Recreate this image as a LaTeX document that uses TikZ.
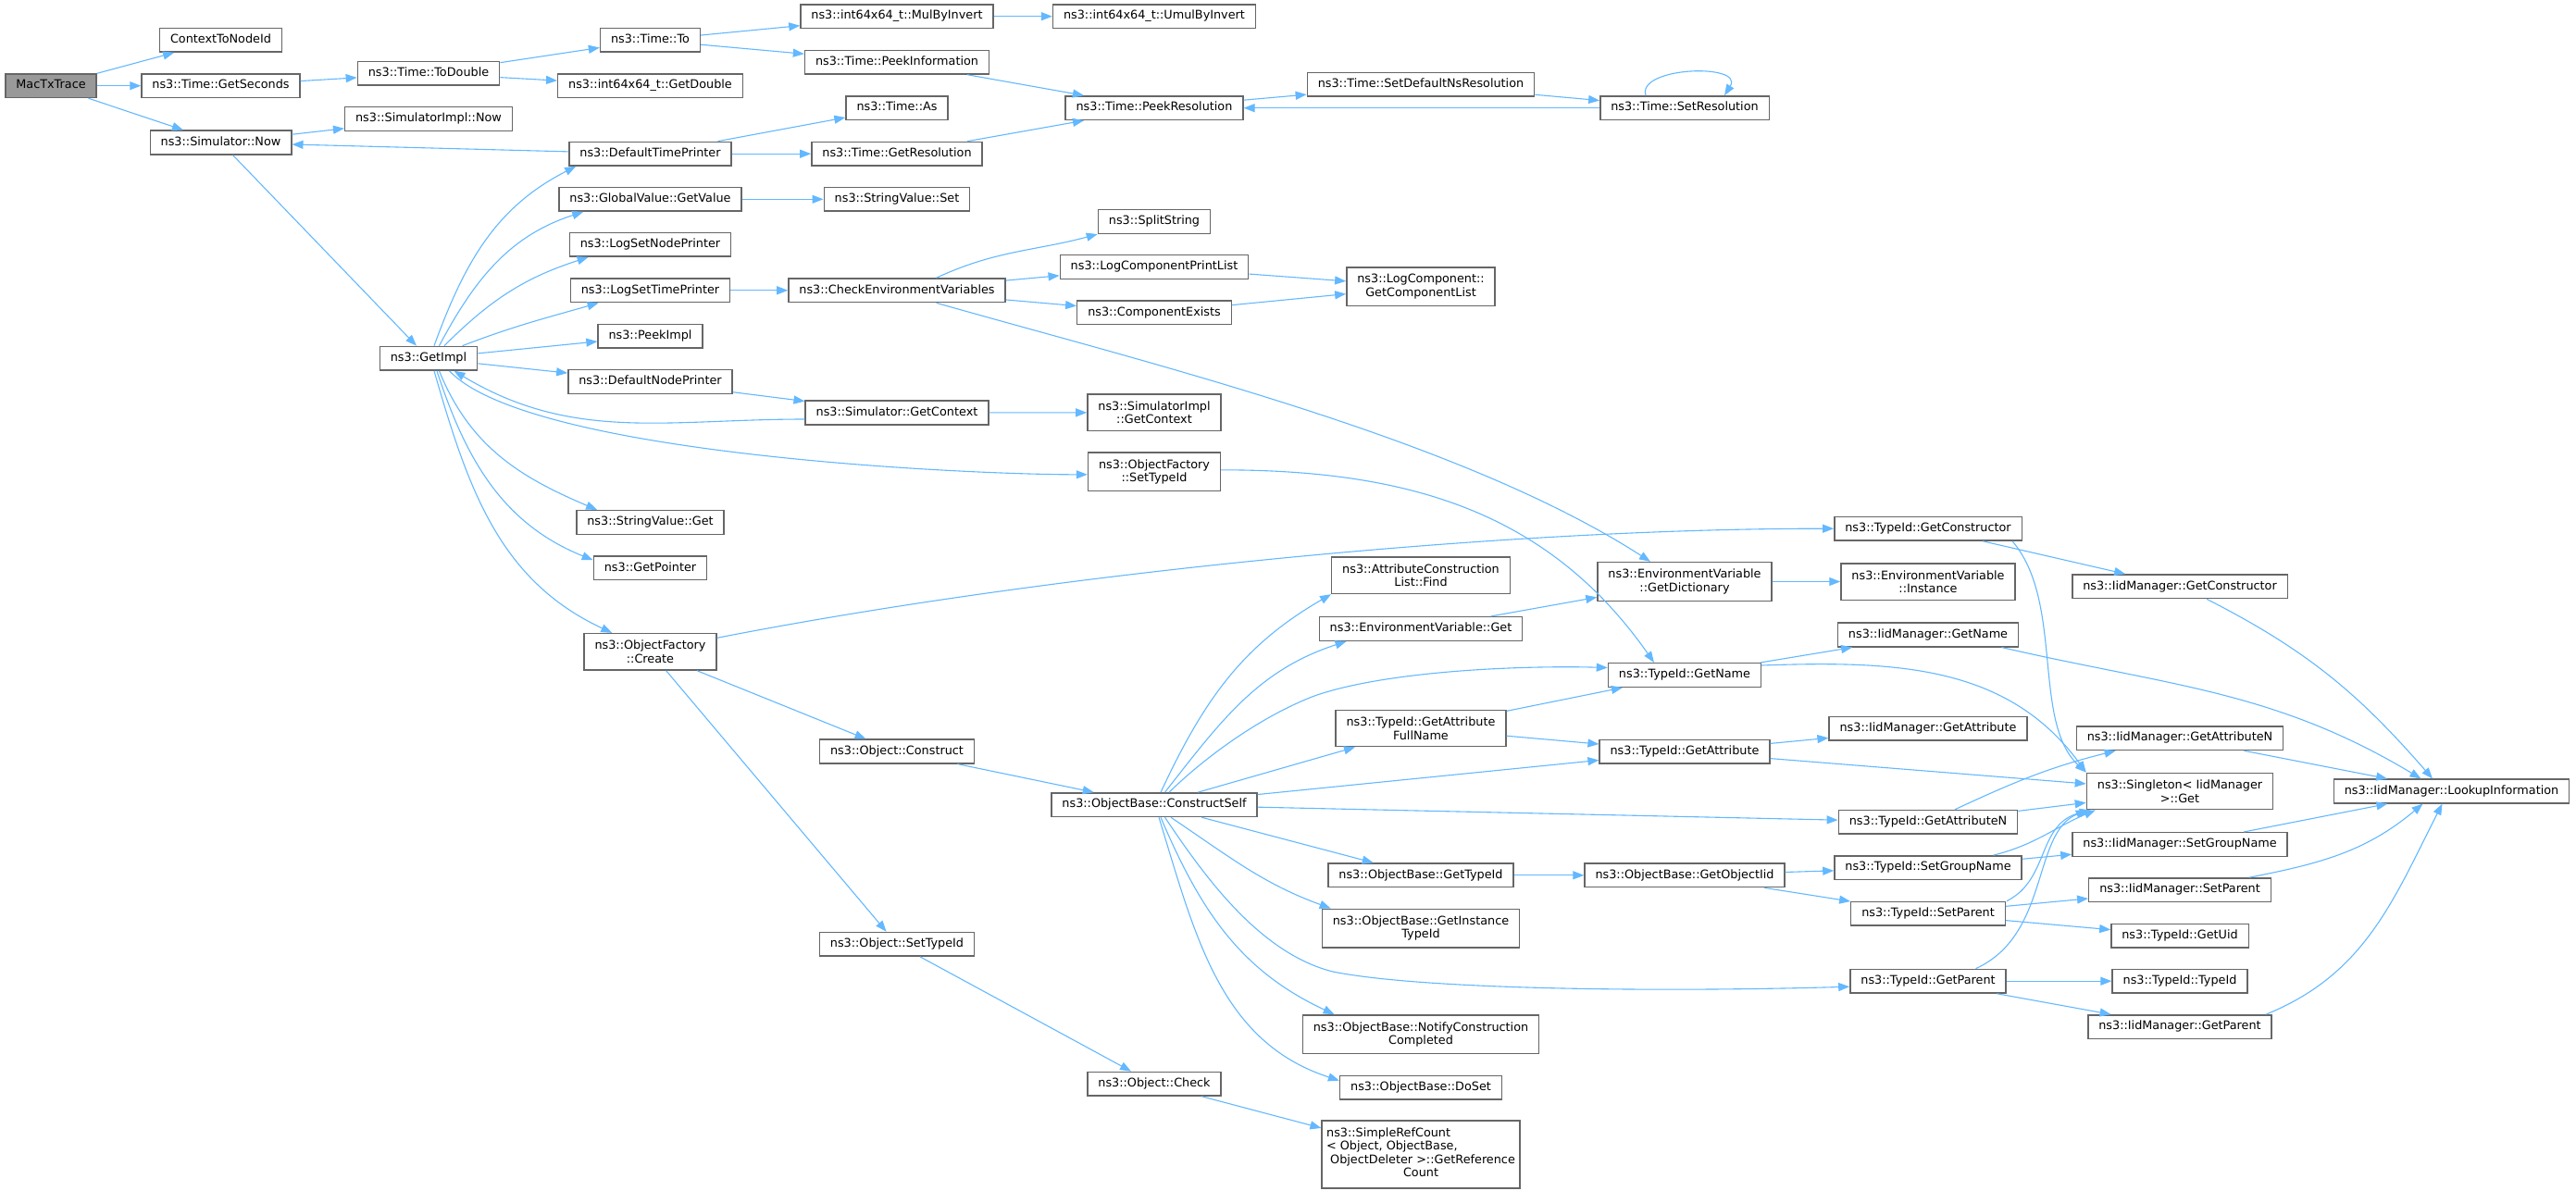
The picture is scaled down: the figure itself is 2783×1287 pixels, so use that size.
\documentclass[tikz,border=0pt]{standalone}
\usepackage{fontspec}
\setmainfont{DejaVu Sans}
\usetikzlibrary{arrows.meta}
\definecolor{edgeblue}{HTML}{63B8FF}
\definecolor{boxgray}{HTML}{666666}
\definecolor{rootgray}{HTML}{999999}
\tikzset{
  fnm/.style={draw=boxgray, line width=1.4pt, fill=white, align=center,
    font=\fontsize{12.8}{14.5}\selectfont, inner xsep=11.5pt, inner ysep=7.5pt, minimum height=25.7pt},
  fn/.style={fnm, text height=9.4pt, text depth=3pt, inner ysep=6.6pt},
  root/.style={fn, fill=rootgray},
  call/.style={draw=edgeblue, line width=1.1pt, -{Triangle[length=12pt,width=9pt]}}
}

\begin{document}
\begin{tikzpicture}[x=1pt,y=1pt]
\useasboundingbox (0,0) rectangle (2783,-1287);

\node[root] (mac) at (55,-92.7) {MacTxTrace};

\node[fn] (ctx) at (238.5,-43.3) {ContextToNodeId};
\node[fn] (gsec) at (238.5,-92.7) {ns3::Time::GetSeconds};
\node[fn] (snow) at (238.5,-154) {ns3::Simulator::Now};

\node[fn] (todbl) at (463,-79.3) {ns3::Time::ToDouble};
\node[fn] (sinow) at (463,-128.5) {ns3::SimulatorImpl::Now};
\node[fn] (gimpl) at (463,-387.2) {ns3::GetImpl};

\node[fn] (tto) at (702.5,-43.3) {ns3::Time::To};
\node[fn] (gdbl) at (702.5,-92.7) {ns3::int64x64\_t::GetDouble};
\node[fn] (dtp) at (702.5,-166.2) {ns3::DefaultTimePrinter};
\node[fn] (gval) at (702.5,-215.3) {ns3::GlobalValue::GetValue};
\node[fn] (lsnp) at (702.5,-264.3) {ns3::LogSetNodePrinter};
\node[fn] (lstp) at (702.5,-313.8) {ns3::LogSetTimePrinter};
\node[fn] (pimpl) at (702.5,-363.3) {ns3::PeekImpl};
\node[fn] (dnp) at (702.5,-412.5) {ns3::DefaultNodePrinter};
\node[fn] (svget) at (702.5,-564.5) {ns3::StringValue::Get};
\node[fn] (gptr) at (702.5,-613.8) {ns3::GetPointer};
\node[fnm] (ofc) at (702.5,-704.3) {ns3::ObjectFactory\\::Create};

\node[fn] (mbi) at (969,-17.7) {ns3::int64x64\_t::MulByInvert};
\node[fn] (pinfo) at (969,-67.2) {ns3::Time::PeekInformation};
\node[fn] (tas) at (969,-116.7) {ns3::Time::As};
\node[fn] (gres) at (969,-166.2) {ns3::Time::GetResolution};
\node[fn] (svset) at (969,-215.3) {ns3::StringValue::Set};
\node[fn] (cenv) at (969,-313.8) {ns3::CheckEnvironmentVariables};
\node[fn] (sgctx) at (969,-446) {ns3::Simulator::GetContext};
\node[fn] (ocon) at (969,-812) {ns3::Object::Construct};
\node[fn] (ostid) at (969,-1020.3) {ns3::Object::SetTypeId};

\node[fn] (umbi) at (1247,-17.7) {ns3::int64x64\_t::UmulByInvert};
\node[fn] (pres) at (1247,-116.7) {ns3::Time::PeekResolution};
\node[fn] (split) at (1247,-239.5) {ns3::SplitString};
\node[fn] (lcpl) at (1247,-288.5) {ns3::LogComponentPrintList};
\node[fn] (cex) at (1247,-337.8) {ns3::ComponentExists};
\node[fnm] (sigctx) at (1247,-445.8) {ns3::SimulatorImpl\\::GetContext};
\node[fnm] (ofst) at (1247,-509.8) {ns3::ObjectFactory\\::SetTypeId};
\node[fn] (cself) at (1247,-869.7) {ns3::ObjectBase::ConstructSelf};
\node[fn] (ochk) at (1247,-1171.2) {ns3::Object::Check};

\node[fn] (sdnr) at (1535,-91.3) {ns3::Time::SetDefaultNsResolution};
\node[fnm] (gcl) at (1535,-309.8) {ns3::LogComponent::\\GetComponentList};
\node[fnm] (acfind) at (1535,-621.8) {ns3::AttributeConstruction\\List::Find};
\node[fn] (evget) at (1535,-679.5) {ns3::EnvironmentVariable::Get};
\node[fnm] (gafn) at (1535,-787) {ns3::TypeId::GetAttribute\\FullName};
\node[fn] (obgt) at (1535,-945.8) {ns3::ObjectBase::GetTypeId};
\node[fnm] (obgit) at (1535,-1003.2) {ns3::ObjectBase::GetInstance\\TypeId};
\node[fnm] (ncc) at (1535,-1117.8) {ns3::ObjectBase::NotifyConstruction\\Completed};
\node[fn] (doset) at (1535,-1175.2) {ns3::ObjectBase::DoSet};
\node[fnm, inner xsep=5pt] (src) at (1535,-1247.3) {\begin{tabular}{@{}l@{}}ns3::SimpleRefCount\\< Object, ObjectBase,\\\ ObjectDeleter >::GetReference\\\multicolumn{1}{@{}c@{}}{Count}\end{tabular}};

\node[fn] (sres) at (1820,-116.7) {ns3::Time::SetResolution};
\node[fnm] (evdict) at (1820,-628.5) {ns3::EnvironmentVariable\\::GetDictionary};
\node[fn] (tgn) at (1820,-729.5) {ns3::TypeId::GetName};
\node[fn] (tga) at (1820,-812.2) {ns3::TypeId::GetAttribute};
\node[fn] (obgoi) at (1820,-945.8) {ns3::ObjectBase::GetObjectIid};

\node[fn] (tgc) at (2083,-571.2) {ns3::TypeId::GetConstructor};
\node[fnm] (evinst) at (2083,-628.5) {ns3::EnvironmentVariable\\::Instance};
\node[fn] (imgn) at (2083,-686) {ns3::IidManager::GetName};
\node[fn] (imga) at (2083,-787.2) {ns3::IidManager::GetAttribute};
\node[fn] (tgan) at (2083,-888.3) {ns3::TypeId::GetAttributeN};
\node[fn] (tsgn) at (2083,-937.7) {ns3::TypeId::SetGroupName};
\node[fn] (tsp) at (2083,-987.2) {ns3::TypeId::SetParent};
\node[fn] (tgp) at (2083,-1060.2) {ns3::TypeId::GetParent};

\node[fn] (imgc) at (2355,-633.8) {ns3::IidManager::GetConstructor};
\node[fn] (imgan) at (2355,-797.7) {ns3::IidManager::GetAttributeN};
\node[fnm] (sing) at (2355,-855) {ns3::Singleton< IidManager\\>::Get};
\node[fn] (imsgn) at (2355,-912.5) {ns3::IidManager::SetGroupName};
\node[fn] (imsp) at (2355,-961.7) {ns3::IidManager::SetParent};
\node[fn] (tuid) at (2355,-1011.2) {ns3::TypeId::GetUid};
\node[fn] (ttid) at (2355,-1060.2) {ns3::TypeId::TypeId};
\node[fn] (imgp) at (2355,-1109.7) {ns3::IidManager::GetParent};

\node[fn] (lookup) at (2648.5,-855) {ns3::IidManager::LookupInformation};

\foreach \a/\b in {mac/ctx, mac/gsec, mac/snow, gsec/todbl, todbl/tto, todbl/gdbl,
    tto/mbi, tto/pinfo, mbi/umbi, pinfo/pres, snow/sinow, snow/gimpl, dtp/snow,
    dtp/tas, dtp/gres, gres/pres, pres/sdnr, sdnr/sres, sres/pres, gimpl/pimpl,
    gimpl/dnp, gval/svset, lstp/cenv, cenv/lcpl, cenv/cex, lcpl/gcl, cex/gcl,
    dnp/sgctx, sgctx/sigctx, ofc/ocon, ofc/ostid, ocon/cself, ostid/ochk, ochk/src,
    evget/evdict, evdict/evinst, gafn/tgn, gafn/tga, tgn/imgn, tga/imga, tga/sing,
    tgc/imgc, imgan/lookup, tgan/sing, obgt/obgoi, obgoi/tsgn, obgoi/tsp,
    tsgn/imsgn, tsp/imsp, tsp/tuid, tgp/ttid, tgp/imgp, imsgn/lookup,
    cself/gafn, cself/tga, cself/tgan, cself/obgt}
  \draw[call] (\a) -- (\b);

\draw[call] ([xshift=6pt]gimpl.north) to[out=70,in=207] ([xshift=8pt]dtp.south west);
\draw[call] ([xshift=11.5pt]gimpl.north) to[out=62,in=198] ([xshift=27pt]gval.south west);
\draw[call] ([xshift=17pt]gimpl.north) to[out=45,in=198] ([xshift=21pt]lsnp.south west);
\draw[call] ([xshift=36.5pt]gimpl.north) to[out=21,in=196] ([xshift=31pt]lstp.south west);
\draw[call] ([yshift=-7pt]sgctx.west) to[out=180,in=-31] ([xshift=27.5pt]gimpl.south);
\draw[call] ([xshift=22.5pt]gimpl.south) .. controls (571.4,-492) and (1049.5,-513) .. ([yshift=-3pt]ofst.west);
\draw[call] ([xshift=11.5pt]gimpl.south) to[out=-68,in=157] ([xshift=23pt]svget.north west);
\draw[call] ([xshift=9pt]gimpl.south) to[out=-72,in=158] ([yshift=-5pt]gptr.north west);
\draw[call] ([xshift=6pt]gimpl.south) to[out=-74,in=155] ([xshift=31pt]ofc.north west);

\draw[call] ([xshift=42.6pt]cenv.north) to[out=25,in=195] (split.south west);
\draw[call] ([xshift=42.6pt]cenv.south) .. controls (1248,-394.5) and (1577,-474.3) .. ([xshift=-37pt]evdict.north);
\draw[call] ([yshift=2pt]ofst.east) to[out=0,in=125] ([xshift=-33pt]tgn.north);
\draw[call] ([yshift=15pt]ofc.east) .. controls (1131,-619.8) and (1618,-571.2) .. (tgc.west);
\draw[call] ([xshift=-42pt]sres.north) .. controls (1768,-72) and (1885,-68) .. ([xshift=43pt]sres.north);

\draw[call] ([xshift=7pt]cself.north) to[out=65,in=210] (acfind.south west);
\draw[call] ([xshift=11.5pt]cself.north) to[out=52,in=198] ([xshift=30pt]evget.south west);
\draw[call] ([xshift=16pt]cself.north) .. controls (1300,-820) and (1360,-775) .. (1420,-752)
  .. controls (1500,-724) and (1650,-719) .. ([yshift=8pt]tgn.west);
\draw[call] ([xshift=18pt]cself.south) to[out=-34,in=160] ([xshift=10pt]obgit.north west);
\draw[call] ([xshift=11.5pt]cself.south) .. controls (1300,-945) and (1360,-1030) .. (1440,-1050)
  .. controls (1540,-1070) and (1800,-1072) .. ([yshift=-6pt]tgp.west);
\draw[call] ([xshift=7pt]cself.south) to[out=-67,in=155] ([xshift=35pt]ncc.north west);
\draw[call] ([xshift=5pt]cself.south) to[out=-73,in=162] ([yshift=-6pt]doset.north west);

\draw[call] ([yshift=10.5pt]tgn.east) to[out=2,in=126] (sing.north west);
\draw[call] ([xshift=91pt]tgc.south) .. controls (2230,-650) and (2195,-780) .. (sing.north west);
\draw[call] ([xshift=29pt]imgc.south) to[out=-27,in=131] ([xshift=-20.5pt]lookup.north);
\draw[call] ([xshift=79.5pt]imgn.south) to[out=-13,in=149] ([xshift=-33pt]lookup.north);
\draw[call] ([xshift=29pt]tgan.north) to[out=25,in=194] ([xshift=43pt]imgan.south west);
\draw[call] ([xshift=70.5pt]tsgn.north) to[out=14,in=203] ([xshift=10pt]sing.south west);
\draw[call] ([xshift=85pt]tsp.north) .. controls (2215,-950) and (2200,-890) .. ([xshift=5pt]sing.south west);
\draw[call] ([xshift=51.5pt]tgp.north) .. controls (2215,-1010) and (2195,-900) .. ([xshift=1pt]sing.south west);
\draw[call] ([xshift=75pt]imsp.north) to[out=11,in=220] ([xshift=-31pt]lookup.south);
\draw[call] ([xshift=93pt]imgp.north) to[out=22,in=243] ([xshift=-10pt]lookup.south);
\end{tikzpicture}
\end{document}
